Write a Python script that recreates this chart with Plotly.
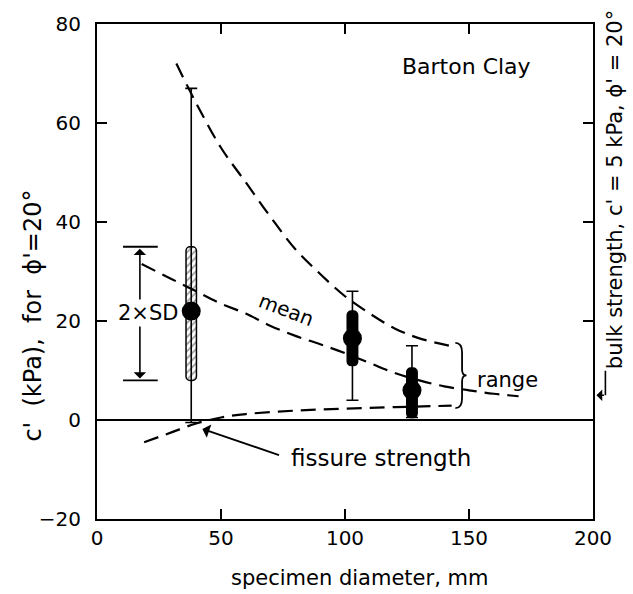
import plotly.graph_objects as go

# ---------------- data ----------------
diam = [38, 103, 127]               # specimen diameter, mm
mean_c = [22, 16.5, 6]              # mean c' (kPa)
range_hi = [67, 26, 15]             # max of range
range_lo = [-0.5, 4, 0.5]           # min of range
sd_hi = [35, 22, 10.5]              # mean + SD
sd_lo = [8, 11, 0.5]                # mean - SD

upper_x = [32, 40, 50, 60, 70, 80, 90, 100, 110, 120, 130, 144]
upper_y = [72, 64, 55, 48, 41, 34.5, 29.5, 25, 21.5, 18.5, 16.5, 14.8]
mean_x = [18, 30, 40, 50, 60, 70, 80, 90, 100, 110, 120, 130, 140, 150, 160, 170]
mean_y = [31.5, 28.5, 26, 23.5, 21.5, 19, 17, 15.3, 13.5, 11.5, 9.5, 8, 6.8, 6, 5.3, 4.8]
lower_x = [19, 30, 40, 50, 60, 80, 100, 120, 143]
lower_y = [-4.5, -2.5, -0.7, 0.5, 1.2, 1.9, 2.3, 2.6, 2.9]

x_ticks = [0, 50, 100, 150, 200]
y_ticks = [-20, 0, 20, 40, 60, 80]
x_min, x_max = 0, 200
y_min, y_max = -20, 80

# key for 2 x SD
key_x = 17.3
key_hi, key_lo, key_mid = 35, 8, 21.7
bulk_c = 5  # bulk strength c' kPa

FONT = "DejaVu Sans"
dash = "15px,8px"

fig = go.Figure()

for xs, ys in [(upper_x, upper_y), (mean_x, mean_y), (lower_x, lower_y)]:
    fig.add_trace(go.Scatter(x=xs, y=ys, mode="lines",
                             line=dict(color="black", width=2.2, dash=dash, shape="spline"),
                             hoverinfo="skip"))

# SD boxes
heights = [h - l for h, l in zip(sd_hi, sd_lo)]
fig.add_trace(go.Bar(
    x=diam, y=heights, base=sd_lo, width=[4.2, 4.2, 4.2],
    marker=dict(color=["white", "black", "black"], line=dict(color="black", width=1.5),
                pattern=dict(shape=["/", "", ""], fgcolor="black", size=5, solidity=0.35),
                cornerradius=4),
    hoverinfo="skip"))

# range whiskers + mean dots
fig.add_trace(go.Scatter(
    x=diam, y=mean_c, mode="markers",
    marker=dict(color="black", size=19),
    error_y=dict(type="data", symmetric=False,
                 array=[h - m for h, m in zip(range_hi, mean_c)],
                 arrayminus=[m - l for m, l in zip(mean_c, range_lo)],
                 color="black", thickness=1.6, width=6),
    hoverinfo="skip"))

ann = []
shapes = []
tf = lambda s: dict(family=FONT, size=s, color="black")

ann.append(dict(x=149, y=71.5, text="Barton Clay", showarrow=False, font=tf(22)))
ann.append(dict(x=76.6, y=22.3, text="mean", showarrow=False, textangle=21, font=tf(20)))
ann.append(dict(x=165.5, y=8, text="range", showarrow=False, font=tf(21)))
ann.append(dict(x=114.5, y=-7.6, text="fissure strength", showarrow=False, font=tf(23)))
ann.append(dict(x=42.5, y=-1.8, ax=74, ay=-7.2, axref="x", ayref="y", text="",
                showarrow=True, arrowhead=1, arrowsize=1.3, arrowwidth=1.8, arrowcolor="black"))

# 2 x SD key
for yy in (key_hi, key_lo):
    shapes.append(dict(type="line", x0=10.5, x1=24.5, y0=yy, y1=yy, line=dict(color="black", width=1.8)))
    ann.append(dict(x=key_x, y=yy + (-0.4 if yy > key_mid else 0.4), ax=key_x, ay=key_mid,
                    axref="x", ayref="y", text="", showarrow=True, arrowhead=1,
                    arrowsize=1.3, arrowwidth=1.6, arrowcolor="black"))
ann.append(dict(x=20.5, y=key_mid, text="2×SD", showarrow=False, bgcolor="white", font=tf(21)))

# brace for range
bx0, bx1, bx2 = 144.5, 147.2, 149.0
bt, bb = 15.6, 2.4
bm = (bt + bb) / 2
path = (f"M {bx0},{bt} Q {bx1},{bt} {bx1},{bt-2} L {bx1},{bm+1.2} Q {bx1},{bm} {bx2},{bm} "
        f"Q {bx1},{bm} {bx1},{bm-1.2} L {bx1},{bb+2} Q {bx1},{bb} {bx0},{bb}")
shapes.append(dict(type="path", path=path, xref="x", yref="y", line=dict(color="black", width=1.8)))

# L-shaped pointer to the bulk strength on the right axis
ann.append(dict(xref="paper", yref="y", x=1.025, y=bulk_c, ax=0, ay=-26, text="", showarrow=True,
                arrowhead=0, arrowwidth=1.6, arrowcolor="black", standoff=0, startstandoff=0))
ann.append(dict(xref="paper", yref="y", x=1.007, y=bulk_c, ax=9, ay=0, text="", showarrow=True,
                arrowhead=1, arrowsize=1.2, arrowwidth=1.6, arrowcolor="black", standoff=0,
                startstandoff=0))

# axis titles
ann.append(dict(xref="paper", yref="y", x=-0.129, y=21.1, text="c'  (kPa),  for  ϕ'=20°",
                xanchor="center", yanchor="middle",
                textangle=-90, showarrow=False, font=tf(24)))
ann.append(dict(xref="paper", yref="y", x=1.046, y=46.6, text="bulk strength, c' = 5 kPa, ϕ' = 20°",
                xanchor="center", yanchor="middle",
                textangle=-90, showarrow=False, font=tf(21)))
ann.append(dict(xref="x", yref="paper", x=106, y=-0.119, text="specimen diameter, mm",
                xanchor="center", yanchor="middle",
                showarrow=False, font=tf(21)))

axis_common = dict(showline=True, linecolor="black", linewidth=2, mirror="ticks",
                   ticks="inside", ticklen=10, tickwidth=1.6, tickcolor="black",
                   showgrid=False, tickfont=dict(family=FONT, size=20, color="black"))

fig.update_layout(
    width=633, height=594,
    margin=dict(l=97, r=40, t=24, b=75),
    plot_bgcolor="white", paper_bgcolor="white",
    showlegend=False, barmode="overlay",
    xaxis=dict(range=[x_min, x_max], tickvals=x_ticks, zeroline=False, ticklabelstandoff=0, **axis_common),
    yaxis=dict(range=[y_min, y_max], tickvals=y_ticks, zeroline=True, zerolinecolor="black",
               zerolinewidth=2, ticklabelstandoff=10, **axis_common),
    annotations=ann, shapes=shapes,
)

fig.write_html("out.html")
